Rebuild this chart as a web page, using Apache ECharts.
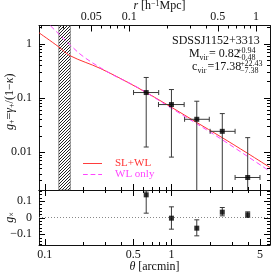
<!DOCTYPE html>
<html><head><meta charset="utf-8">
<script src="https://cdn.jsdelivr.net/npm/echarts@6/dist/echarts.min.js"></script>
<style>html,body{margin:0;padding:0;background:#fff}#c{width:274px;height:272px}</style>
</head><body><div id="c"></div>
<script>
// ---------------- data ----------------
const thetaPts  = [0.632, 1.0, 1.585, 2.52, 4.0];
const thetaLo   = [0.502, 0.79, 1.27, 2.02, 3.18];
const thetaHi   = [0.793, 1.26, 1.99, 3.18, 5.0];
const gPlus     = [0.125, 0.0751, 0.0402, 0.0241, 0.0034];
const gPlusLo   = [0.0124, 0.00808, null, null, null];   // null: lower bound <= 0
const gPlusHi   = [0.237, 0.142, 0.0865, 0.0512, 0.01845];
const gCross    = [0.136, -0.004, -0.064, 0.032, 0.016];
const gCrossLo  = [0.026, -0.070, -0.110, 0.010, 0.000];
const gCrossHi  = [0.160, 0.064, -0.014, 0.060, 0.034];

const slwlTheta = [0.09, 0.1287, 0.159, 0.274, 0.537, 1.0, 1.594, 2.42, 4.0, 6.0];
const slwl      = [1.58, 0.87, 0.594, 0.348, 0.155, 0.067, 0.0348, 0.0195, 0.00946, 0.0052];
const wlTheta   = [0.1, 0.1107, 0.159, 0.2025, 0.3288, 0.5336, 1.0, 2.42, 6.0];
const wlOnly    = [2.7, 2.13, 0.937, 0.570, 0.281, 0.158, 0.0642, 0.0179, 0.0044];

const maskTheta = [0.129, 0.159];

const thetaMajor = [0.1, 0.5, 1, 5];
const thetaMinor = [0.2, 0.3, 0.4, 0.6, 0.7, 0.8, 0.9, 2, 3, 4];
const rMajor = [0.05, 0.1, 0.5, 1];
const rMinor = [0.02, 0.03, 0.04, 0.06, 0.07, 0.08, 0.09, 0.2, 0.3, 0.4, 0.6, 0.7, 0.8, 0.9];
const gMajor = [0.01, 0.1, 1];
const gMinor = [0.003, 0.004, 0.005, 0.006, 0.007, 0.008, 0.009,
                0.02, 0.03, 0.04, 0.05, 0.06, 0.07, 0.08, 0.09,
                0.2, 0.3, 0.4, 0.5, 0.6, 0.7, 0.8, 0.9, 2];
const gxMajor = [-0.1, 0, 0.1];
const gxMinor = [-0.16, -0.14, -0.12, -0.08, -0.06, -0.04, -0.02,
                 0.02, 0.04, 0.06, 0.08, 0.12, 0.14, 0.16];

const labelText = {
  name: 'SDSSJ1152+3313',
  mvir: ['0.82', '+0.94', '\u22120.48'],
  cvir: ['17.38', '+22.43', '\u22127.38']
};

// ---------------- scales (log axes drawn as linear axes of log10 values) ----------------
const L = Math.log10;
const thetaMin = 0.09, thetaMax = 6.0;
const rPerArcmin = 0.215;
const gMin = 0.002, gMax = 2.15;
const gxMin = -0.165, gxMax = 0.165;

const FONT = 'Liberation Serif';
const INK = '#111';

const chart = echarts.init(document.getElementById('c'), null, {renderer: 'canvas'});

// hatch pattern (transparent background)
const pc = document.createElement('canvas');
pc.width = 3; pc.height = 3;
const pctx = pc.getContext('2d');
pctx.strokeStyle = '#222'; pctx.lineWidth = 1;
pctx.beginPath();
pctx.moveTo(-1, 4); pctx.lineTo(4, -1);
pctx.stroke();

const fmtNum = v => { const r = +(+v).toPrecision(4); return (r < 0 ? '\u2212' + Math.abs(r) : String(r)); };
const fmtPow = v => fmtNum(Math.pow(10, v));

function ax(grid, pos, min, max, labels, fmt, margin, extra) {
  return Object.assign({
    type: 'value', gridIndex: grid, position: pos, min: min, max: max, nameMoveOverlap: false,
    splitLine: {show: false}, minorTick: {show: false}, minorSplitLine: {show: false}, axisPointer: {show: false},
    axisLine: {show: true, onZero: false, lineStyle: {color: INK, width: 1}},
    axisTick: {show: false},
    axisLabel: labels ? {show: true, customValues: labels, formatter: fmt, fontFamily: FONT, fontSize: 12, color: INK, margin: margin} : {show: false}
  }, extra || {});
}

const richBase = {
  n: {fontFamily: FONT, fontSize: 12, color: INK, lineHeight: 13},
  i: {fontFamily: FONT, fontSize: 12, fontStyle: 'italic', color: INK, lineHeight: 13},
  sb: {fontFamily: FONT, fontSize: 8, color: INK, verticalAlign: 'bottom', lineHeight: 13},
  sp: {fontFamily: FONT, fontSize: 8, color: INK, verticalAlign: 'top', lineHeight: 13}
};

const G0 = {left: 39, right: 4, top: 25.5, height: 164.5, outerBoundsMode: 'none'};
const G1 = {left: 39, right: 4, top: 190, height: 55, outerBoundsMode: 'none'};

const tx = [L(thetaMin), L(thetaMax)];
const rx = [L(thetaMin * rPerArcmin), L(thetaMax * rPerArcmin)];
const gy = [L(gMin), L(gMax)];
const lg = a => a.map(L);

const upperData = thetaPts.map((t, i) => [L(t), L(gPlus[i]), L(thetaLo[i]), L(thetaHi[i]), L(gPlusHi[i]), gPlusLo[i] == null ? NaN : L(gPlusLo[i])]);
const lowerData = thetaPts.map((t, i) => [L(t), gCross[i], gCrossLo[i], gCrossHi[i]]);

const CAP = 2.5;
const BAR = '#3a3a3a';
const SUBF = '8px "' + FONT + '"';
const MAINF = '12px "' + FONT + '"';

const option = {
  animation: false,
  backgroundColor: '#fff',
  grid: [Object.assign({}, G0), Object.assign({}, G1)],
  xAxis: [
    ax(0, 'bottom', tx[0], tx[1], null),
    ax(0, 'top', rx[0], rx[1], lg(rMajor), fmtPow, 3, {
      name: '{i|r}{n| [h}{sp|\u22121}{n|Mpc]}', nameLocation: 'middle', nameGap: 13,
      nameTextStyle: {rich: richBase, padding: [0, 0, 0, 10]}
    }),
    ax(1, 'bottom', tx[0], tx[1], lg(thetaMajor), fmtPow, 4, {
      name: '{i|\u03b8}{n| [arcmin]}', nameLocation: 'middle', nameGap: 15,
      nameTextStyle: {rich: richBase}
    }),
    ax(1, 'top', tx[0], tx[1], null)
  ],
  yAxis: [
    ax(0, 'left', gy[0], gy[1], lg(gMajor), fmtPow, 7, {
      name: '{i|g}{sb|+}{n|=}{i|\u03b3}{sb|+}{n|/(1\u2212}{i|\u03ba}{n|)}',
      nameLocation: 'middle', nameGap: 23, nameRotate: 90,
      nameTextStyle: {rich: richBase, padding: [0, 0, 0, 12]}
    }),
    ax(0, 'right', gy[0], gy[1], null),
    ax(1, 'left', gxMin, gxMax, gxMajor, fmtNum, 7, {
      name: '{i|g}{sb|\u00d7}', nameLocation: 'middle', nameGap: 23, nameRotate: 90,
      nameTextStyle: {rich: richBase}
    }),
    ax(1, 'right', gxMin, gxMax, null)
  ],
  legend: {
    orient: 'vertical', left: 78, top: 153, itemWidth: 19, itemHeight: 1, itemGap: 0,
    selectedMode: false,
    textStyle: {fontFamily: FONT, fontSize: 11, padding: [0, 0, 0, 8], lineHeight: 11},
    data: [
      {name: 'SL+WL', icon: 'path://M0,0h20v1h-20z', itemStyle: {color: '#ff3333'}, textStyle: {color: '#ff3333'}},
      {name: 'WL only', icon: 'path://M0,0h5v1h-5zM8,0h5v1h-5zM16,0h4v1h-4z', itemStyle: {color: '#ff44ff'}, textStyle: {color: '#ff44ff'}}
    ]
  },
  series: [
    {
      name: 'SL+WL', type: 'line', xAxisIndex: 0, yAxisIndex: 0, smooth: 0.35, symbol: 'none', clip: true,
      lineStyle: {color: '#ff3333', width: 1}, itemStyle: {color: '#ff3333'}, z: 3,
      data: slwlTheta.map((t, i) => [L(t), L(slwl[i])]),
      markArea: {silent: true, z: 1, itemStyle: {color: {image: pc, repeat: 'repeat'}, borderColor: '#444', borderWidth: 0.6},
        data: [[{xAxis: L(maskTheta[0])}, {xAxis: L(maskTheta[1])}]]}
    },
    {
      name: 'WL only', type: 'line', xAxisIndex: 0, yAxisIndex: 0, smooth: 0.35, symbol: 'none', clip: true,
      lineStyle: {color: '#ff44ff', width: 1, type: [5, 3]}, itemStyle: {color: '#ff44ff'}, z: 3,
      data: wlTheta.map((t, i) => [L(t), L(wlOnly[i])])
    },
    {
      type: 'custom', xAxisIndex: 0, yAxisIndex: 0, z: 4, silent: true,
      data: upperData,
      renderItem: function (params, api) {
        const cs = params.coordSys;
        const t = api.value(0), g = api.value(1);
        const p = api.coord([t, g]);
        const xl = api.coord([api.value(2), g])[0];
        const xh = api.coord([api.value(3), g])[0];
        const yh = api.coord([t, api.value(4)])[1];
        const lo = api.value(5);
        const hasLo = !isNaN(lo);
        const yl = hasLo ? api.coord([t, lo])[1] : cs.y + cs.height;
        const st = {stroke: BAR, lineWidth: 1};
        const ch = [
          {type: 'line', shape: {x1: xl, y1: p[1], x2: xh, y2: p[1]}, style: st},
          {type: 'line', shape: {x1: xl, y1: p[1] - CAP, x2: xl, y2: p[1] + CAP}, style: st},
          {type: 'line', shape: {x1: xh, y1: p[1] - CAP, x2: xh, y2: p[1] + CAP}, style: st},
          {type: 'line', shape: {x1: p[0], y1: yh, x2: p[0], y2: yl}, style: st},
          {type: 'line', shape: {x1: p[0] - CAP, y1: yh, x2: p[0] + CAP, y2: yh}, style: st}
        ];
        if (hasLo) ch.push({type: 'line', shape: {x1: p[0] - CAP, y1: yl, x2: p[0] + CAP, y2: yl}, style: st});
        return {type: 'group', children: ch};
      }
    },
    {
      type: 'scatter', xAxisIndex: 0, yAxisIndex: 0, symbol: 'rect', symbolSize: 5, z: 5, silent: true,
      itemStyle: {color: '#000'}, data: thetaPts.map((t, i) => [L(t), L(gPlus[i])])
    },
    {
      type: 'custom', xAxisIndex: 2, yAxisIndex: 2, z: 4, silent: true,
      data: lowerData,
      renderItem: function (params, api) {
        const t = api.value(0);
        const x = api.coord([t, api.value(1)])[0];
        const yl = api.coord([t, api.value(2)])[1];
        const yh = api.coord([t, api.value(3)])[1];
        const st = {stroke: BAR, lineWidth: 1};
        return {type: 'group', children: [
          {type: 'line', shape: {x1: x, y1: yl, x2: x, y2: yh}, style: st},
          {type: 'line', shape: {x1: x - CAP, y1: yl, x2: x + CAP, y2: yl}, style: st},
          {type: 'line', shape: {x1: x - CAP, y1: yh, x2: x + CAP, y2: yh}, style: st}
        ]};
      },
      markLine: {silent: true, symbol: ['none', 'none'], label: {show: false},
        lineStyle: {color: '#888', width: 1, type: [1, 2]}, data: [{yAxis: 0}]}
    },
    {
      type: 'scatter', xAxisIndex: 2, yAxisIndex: 2, symbol: 'rect', symbolSize: 5, z: 5, silent: true,
      itemStyle: {color: '#000'}, data: thetaPts.map((t, i) => [L(t), gCross[i]])
    }
  ]
};
chart.setOption(option);

// ---------------- annotation + tick marks (positions from the chart's own grids) ----------------
const texts = [
  {x: 172, y: 41, t: labelText.name, f: MAINF},
  {x: 189, y: 54, t: 'M', f: MAINF},
  {x: 199.5, y: 57.5, t: 'vir', f: SUBF},
  {x: 209, y: 54, t: '= ' + labelText.mvir[0], f: MAINF},
  {x: 237, y: 50.5, t: labelText.mvir[1], f: SUBF},
  {x: 237, y: 58, t: labelText.mvir[2], f: SUBF},
  {x: 192, y: 67, t: 'c', f: MAINF},
  {x: 197.5, y: 70.5, t: 'vir', f: SUBF},
  {x: 207.5, y: 67, t: '=' + labelText.cvir[0], f: MAINF},
  {x: 240, y: 63.5, t: labelText.cvir[1], f: SUBF},
  {x: 240, y: 71, t: labelText.cvir[2], f: SUBF}
].map(o => ({type: 'text', x: o.x, y: o.y, silent: true, z: 50,
  style: {text: o.t, font: o.f, fill: INK, verticalAlign: 'middle'}}));

const W = 274;
const gridDefs = [
  {x0: G0.left, x1: W - G0.right, y0: G0.top, y1: G0.top + G0.height, xr: tx, yr: gy},
  {x0: G1.left, x1: W - G1.right, y0: G1.top, y1: G1.top + G1.height, xr: tx, yr: [gxMin, gxMax]}
];
function toPx(g, xv, yv) {
  let p = null;
  try { p = chart.convertToPixel({gridIndex: g}, [xv, yv]); } catch (e) { p = null; }
  if (!p || !isFinite(p[0]) || !isFinite(p[1])) {
    const d = gridDefs[g];
    p = [d.x0 + (xv - d.xr[0]) / (d.xr[1] - d.xr[0]) * (d.x1 - d.x0),
         d.y1 - (yv - d.yr[0]) / (d.yr[1] - d.yr[0]) * (d.y1 - d.y0)];
  }
  return p;
}

const MAJ = 6, MIN = 3;
const ticks = [];
const tline = (x1, y1, x2, y2) => ticks.push({type: 'line', silent: true, z: 60,
  shape: {x1: x1, y1: y1, x2: x2, y2: y2}, style: {stroke: '#000', lineWidth: 1}});

function panelTicks(g, yAny, xAny, bottomVals, topVals, yVals) {
  const d = gridDefs[g];
  const left = toPx(g, d.xr[0], yAny)[0], right = toPx(g, d.xr[1], yAny)[0];
  const top = toPx(g, xAny, d.yr[1])[1], bottom = toPx(g, xAny, d.yr[0])[1];
  bottomVals.forEach(([v, len]) => { const x = Math.round(toPx(g, v, yAny)[0]) + 0.5; tline(x, bottom, x, bottom - len); });
  topVals.forEach(([v, len]) => { const x = Math.round(toPx(g, v, yAny)[0]) + 0.5; tline(x, top, x, top + len); });
  yVals.forEach(([v, len]) => { const y = Math.round(toPx(g, xAny, v)[1]) + 0.5;
    tline(left, y, left + len, y); tline(right, y, right - len, y); });
}
const withLen = (vals, len) => vals.map(v => [v, len]);
const thetaTicks = withLen(lg(thetaMajor), MAJ).concat(withLen(lg(thetaMinor), MIN));
const rTicksOnTheta = withLen(rMajor.map(r => L(r / rPerArcmin)), MAJ).concat(withLen(rMinor.map(r => L(r / rPerArcmin)), MIN));
panelTicks(0, gy[0], tx[0], thetaTicks, rTicksOnTheta,
  withLen(lg(gMajor), MAJ).concat(withLen(lg(gMinor), MIN)));
panelTicks(1, 0, tx[0], thetaTicks, thetaTicks,
  withLen(gxMajor, MAJ).concat(withLen(gxMinor, MIN)));

chart.setOption({graphic: texts.concat(ticks)});
</script>
</body></html>
